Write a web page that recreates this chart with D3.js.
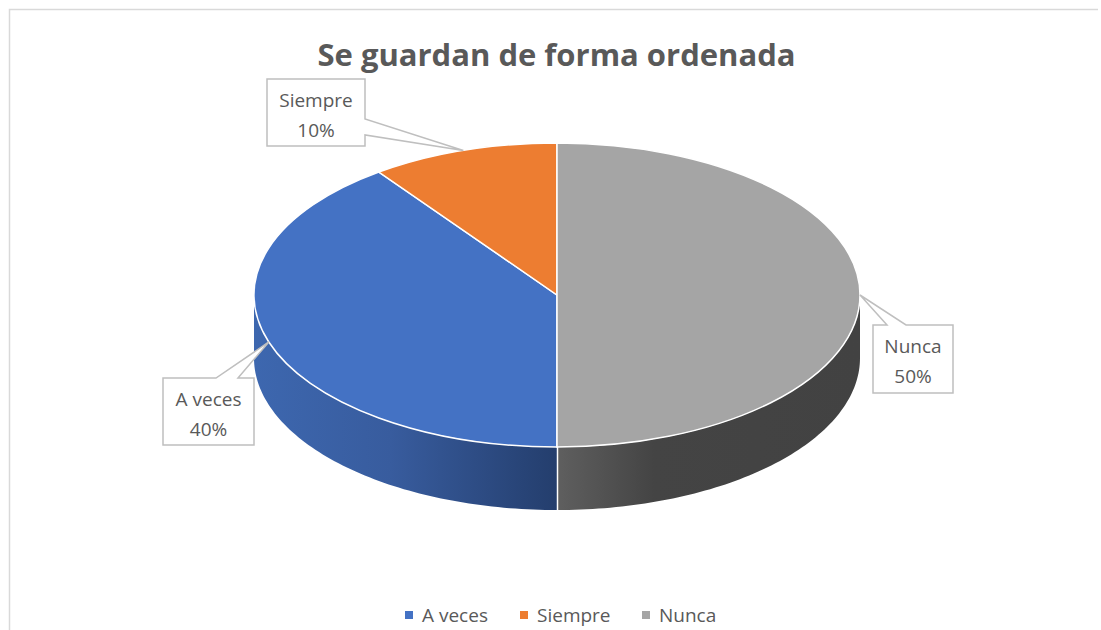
<!DOCTYPE html>
<html>
<head>
<meta charset="utf-8">
<script src="https://cdn.jsdelivr.net/npm/d3@7"></script>
<style>
  body { margin: 0; background: #fff; }
  svg { display: block; }
  text { font-family: "Open Sans", sans-serif; fill: #595959; }
</style>
</head>
<body>
<div id="PieChart"></div>
<script>
var title = "Se guardan de forma ordenada";
var categories = ["A veces", "Siempre", "Nunca"];
var values = [40, 10, 50];

var width = 1101, height = 630;
var cx = 557, cy = 295, rx = 303, ry = 152, depth = 63;

var colors = d3.scaleOrdinal().domain(categories).range(["#4472c4", "#ed7d31", "#a5a5a5"]);

// callout box for each slice, offset from the chart
var boxes = {
  "A veces": { left: 163, top: 378, w: 91, h: 67, side: "top", a: 216, b: 238 },
  "Siempre": { left: 267, top: 79, w: 98, h: 67, side: "right", a: 119, b: 135 },
  "Nunca": { left: 873, top: 325, w: 80, h: 68, side: "top", a: 887, b: 906 }
};

var svg = d3.select("#PieChart").append("svg")
  .attr("width", width)
  .attr("height", height);

// frame, only top and left show in the crop
svg.append("path")
  .attr("d", "M9.5," + height + "V9.5H1098")
  .attr("fill", "none")
  .attr("stroke", "#d9d9d9")
  .attr("stroke-width", 1.5);

svg.append("text")
  .attr("x", 556.5)
  .attr("y", 66)
  .attr("text-anchor", "middle")
  .style("font-size", "31px")
  .style("font-weight", 700)
  .text(title);

var pie = d3.pie().sort(null).startAngle(Math.PI).endAngle(3 * Math.PI);
var slices = pie(values);

// gradients for the side wall
var defs = svg.append("defs");
var blueGrad = defs.append("linearGradient").attr("id", "wallBlue")
  .attr("gradientUnits", "userSpaceOnUse")
  .attr("x1", cx - rx).attr("x2", cx).attr("y1", 0).attr("y2", 0);
blueGrad.append("stop").attr("offset", "0").attr("stop-color", "#3d67af");
blueGrad.append("stop").attr("offset", "0.45").attr("stop-color", "#385c9e");
blueGrad.append("stop").attr("offset", "1").attr("stop-color", "#243e6d");

var greyGrad = defs.append("linearGradient").attr("id", "wallGrey")
  .attr("gradientUnits", "userSpaceOnUse")
  .attr("x1", cx).attr("x2", cx + rx).attr("y1", 0).attr("y2", 0);
greyGrad.append("stop").attr("offset", "0").attr("stop-color", "#5f5f5f");
greyGrad.append("stop").attr("offset", "0.32").attr("stop-color", "#444444");
greyGrad.append("stop").attr("offset", "1").attr("stop-color", "#424242");

// x,y on the rim of the ellipse for a pie angle
function rim(a, dy) {
  return [cx + rx * Math.sin(a), cy - ry * Math.cos(a) + (dy || 0)];
}

function wallPath(a0, a1) {
  var n = 80;
  var front = d3.range(n + 1).map(function (i) { return rim(a0 + (a1 - a0) * i / n); });
  var back = front.map(function (p) { return [p[0], p[1] + depth]; }).reverse();
  return d3.line()(front.concat(back)) + "Z";
}

// only the lower half of the ellipse shows as wall
var wallBlue = svg.append("path")
  .attr("d", wallPath(Math.PI, 1.5 * Math.PI))
  .attr("fill", "url(#wallBlue)");
var wallGrey = svg.append("path")
  .attr("d", wallPath(Math.PI / 2, Math.PI))
  .attr("fill", "url(#wallGrey)");
svg.append("line")
  .attr("x1", cx + 0.5).attr("x2", cx + 0.5)
  .attr("y1", cy + ry).attr("y2", cy + ry + depth)
  .attr("stroke", "#fff").attr("stroke-width", 1.5);

// top face: unit arc squashed into an ellipse
var arc = d3.arc().innerRadius(0).outerRadius(1);
svg.append("g")
  .attr("transform", "translate(" + cx + "," + cy + ") scale(" + rx + "," + ry + ")")
  .selectAll("path")
  .data(slices)
  .enter()
  .append("path")
  .attr("d", arc)
  .attr("fill", function (d, i) { return colors(categories[i]); })
  .attr("stroke", "#fff")
  .attr("stroke-width", 1.5)
  .attr("vector-effect", "non-scaling-stroke");

// callouts
slices.forEach(function (d, i) {
  var name = categories[i];
  var b = boxes[name];
  var tip = rim((d.startAngle + d.endAngle) / 2);
  var r = b.left + b.w, bot = b.top + b.h;
  var pts;
  if (b.side == "top") {
    pts = [[b.left, b.top], [b.a, b.top], tip, [b.b, b.top], [r, b.top], [r, bot], [b.left, bot]];
  } else {
    pts = [[b.left, b.top], [r, b.top], [r, b.a], tip, [r, b.b], [r, bot], [b.left, bot]];
  }
  svg.append("path")
    .attr("d", d3.line()(pts) + "Z")
    .attr("fill", "#fff")
    .attr("stroke", "#bfbfbf")
    .attr("stroke-width", 1.5);
  var mid = b.left + b.w / 2;
  svg.append("text").attr("x", mid).attr("y", b.top + 28)
    .attr("text-anchor", "middle").style("font-size", "19px").text(name);
  svg.append("text").attr("x", mid).attr("y", b.top + 58)
    .attr("text-anchor", "middle").style("font-size", "19px").text(values[i] + "%");
});

// legend
var legendX = d3.scaleOrdinal().domain(categories).range([405, 520, 642]);
var legend = svg.append("g").selectAll("g")
  .data(categories)
  .enter()
  .append("g")
  .attr("transform", function (d) { return "translate(" + legendX(d) + ",611)"; });
legend.append("rect")
  .attr("width", 8)
  .attr("height", 8)
  .attr("fill", function (d) { return colors(d); });
legend.append("text")
  .attr("x", 17)
  .attr("y", 11)
  .style("font-size", "19px")
  .text(function (d) { return d; });
</script>
</body>
</html>
